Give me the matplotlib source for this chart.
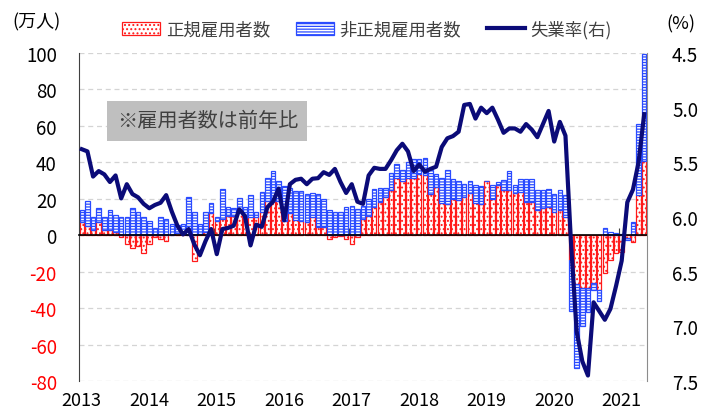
import numpy as np
import matplotlib
matplotlib.use('Agg')
import matplotlib.pyplot as plt
from matplotlib.patches import Patch, Rectangle
from matplotlib.lines import Line2D

plt.rcParams['font.family'] = ['Noto Sans CJK JP', 'DejaVu Sans']
plt.rcParams['hatch.linewidth'] = 0.9

# ---------------- data (monthly, Jan 2013 - May 2021) ----------------
years = ['2013', '2014', '2015', '2016', '2017', '2018', '2019', '2020', '2021']

# 正規雇用者数 (前年比, 万人)
regular = [
    7, 5, 3, 7, 3, 3, 2, -1, -5, -7, -6, -10,                    # 2013
    -5, -1, -2, -3, 0, 1, 0.5, 0, -14, 0.5, 2, 12,                # 2014
    8, 9, 10.5, 10.5, 14, 9.5, 10, 10, 12.5, 19, 19, 19,          # 2015
    8, 12, 8.3, 8, 7.5, 10, 4.5, 4.5, -2, -1, -0.5, -2,           # 2016
    -5, -1, 9, 10.5, 15.5, 18, 21, 25, 31.6, 30, 31.6, 31.6,      # 2017
    33.8, 33, 22.8, 26.5, 17.7, 17, 20, 19.5, 21, 23, 17.5, 17,   # 2018
    29.5, 20, 27.6, 25, 24.7, 23, 23.5, 18.5, 18.3, 13.6, 15, 15.5,  # 2019
    12.7, 14, 10, -13.7, -27, -29, -29, -26, -30, -21, -13.7, -10,   # 2020
    -9, -1.5, -3.7, 22, 41,                                        # 2021
]

# 非正規雇用者数 (前年比, 万人)
nonregular = [
    7, 14, 7, 8, 7, 11, 9, 10, 10, 15, 13, 10,                    # 2013
    8, 4, 10, 9, 6, 4.5, 5.5, 21, 13, 5.5, 11, 5.5,               # 2014
    2, 16.5, 5, 4.7, 6.5, 6, 12, 3, 11, 12.5, 16.5, 11,           # 2015
    19, 13.7, 15.7, 16.5, 15, 13.2, 18, 15.5, 14, 12.5, 12.5, 15.5,  # 2016
    16, 14.5, 7, 9.5, 10.1, 8, 5, 9, 7.4, 5.6, 8.4, 10.4,         # 2017
    8.2, 9.6, 13.2, 7, 13.9, 18.6, 11, 10.5, 7, 7, 10, 10,        # 2018
    0.5, 7.4, 1.4, 5.5, 10.3, 4.7, 7.5, 12.5, 12.7, 11.1, 10, 10.1,  # 2019
    10.1, 11, 12, -28, -46, -21, -13, -4, -6, 3.7, 1.5, 1,        # 2020
    0.5, -1, 7.3, 39, 58.6,                                        # 2021
]

# 失業率 (%, 右軸)
unemployment = [
    5.38, 5.40, 5.63, 5.58, 5.61, 5.68, 5.62, 5.83, 5.70, 5.79, 5.82, 5.88,
    5.92, 5.89, 5.87, 5.80, 5.95, 6.08, 6.16, 6.11, 6.25, 6.35, 6.22, 6.11,
    6.34, 6.11, 6.10, 6.08, 5.93, 5.99, 6.26, 6.07, 6.09, 5.91, 5.86, 5.74,
    6.03, 5.70, 5.66, 5.65, 5.70, 5.65, 5.645, 5.59, 5.615, 5.56, 5.68, 5.78,
    5.70, 5.86, 5.88, 5.62, 5.55, 5.56, 5.56, 5.48, 5.39, 5.33, 5.40, 5.58,
    5.52, 5.585, 5.56, 5.54, 5.36, 5.28, 5.26, 5.22, 4.975, 4.966, 5.10, 5.00,
    5.05, 5.00, 5.11, 5.23, 5.19, 5.19, 5.22, 5.15, 5.20, 5.27, 5.15, 5.03,
    5.31, 5.13, 5.256, 6.25, 7.05, 7.32, 7.45, 6.78, 6.86, 6.94, 6.84, 6.63,
    6.40, 5.865, 5.75, 5.50, 5.06,
]

legend_labels = ['正規雇用者数', '非正規雇用者数', '失業率(右)']
note_text = '※雇用者数は前年比'

# ---------------- drawing ----------------
RED = '#ff1a1a'
BLUE = '#2a4bff'
NAVY = '#0b0b78'
GRAY_TXT = '#404040'

n = len(regular)
x = np.arange(n)
reg = np.array(regular, dtype=float)
non = np.array(nonregular, dtype=float)
bottom_non = np.where(np.sign(non) == np.sign(reg), reg, 0.0)

fig = plt.figure(figsize=(7.03, 4.14), dpi=100)
ax = fig.add_axes([79 / 703, 1 - 382 / 414, 568 / 703, 328 / 414])
ax.set_xlim(-0.5, n - 0.5)
ax.set_ylim(-80, 100)

ax.bar(x, reg, width=0.8, facecolor='white', edgecolor=RED, hatch='....',
       linewidth=0.9, zorder=2)
ax.bar(x, non, bottom=bottom_non, width=0.8, facecolor='white', edgecolor=BLUE,
       hatch='------', linewidth=0.9, zorder=2)

yt = list(range(-80, 101, 20))
ax.set_yticks(yt)
ax.set_yticklabels([str(v) for v in yt])
for lab, v in zip(ax.get_yticklabels(), yt):
    lab.set_color('#ff0000' if v < 0 else 'black')
ax.tick_params(axis='y', length=0, pad=16, labelsize=13.5)
ax.yaxis.grid(True, linestyle=(0, (4, 3)), color='#d4d4d4', linewidth=0.9)
ax.set_axisbelow(True)

ax.spines['top'].set_visible(False)
ax.spines['right'].set_visible(False)
ax.spines['left'].set_color('#404040')
ax.spines['bottom'].set_position(('data', 0))
ax.spines['bottom'].set_color('black')
ax.spines['bottom'].set_linewidth(1.2)
ax.spines['bottom'].set_zorder(3)

ax.set_xticks(np.arange(11.5, n, 12))
ax.tick_params(axis='x', direction='in', length=5, color='#404040',
               labelbottom=False)

sec = ax.secondary_xaxis('bottom')
sec.set_xticks(np.arange(0, n, 12), labels=years)
sec.tick_params(length=0, labelsize=13, pad=7)
sec.spines['bottom'].set_visible(False)

# note box
ax.add_patch(Rectangle((28 / 568, (382 - 141.7) / 328), 200 / 568, 40 / 328,
                       transform=ax.transAxes, facecolor='#bfbfbf',
                       edgecolor='none', zorder=4))
ax.text(0.226, 0.7936, note_text, transform=ax.transAxes, ha='center',
        va='center', fontsize=14.5, color=GRAY_TXT, zorder=5)

# right axis: unemployment (inverted)
ax2 = ax.twinx()
ax2.set_ylim(7.5, 4.5)
rt = np.arange(4.5, 7.51, 0.5)
ax2.set_yticks(rt)
ax2.set_yticklabels([f'{v:.1f}' for v in rt])
ax2.tick_params(axis='y', length=0, pad=18, labelsize=13.5)
ax2.plot(x, unemployment, color=NAVY, linewidth=3, solid_joinstyle='round',
         zorder=3)
for s in ['top', 'left', 'bottom']:
    ax2.spines[s].set_visible(False)
ax2.spines['right'].set_color('#8c8c8c')

# unit labels
fig.text(36 / 703, 1 - 22 / 414, '(万人)', ha='center', va='center',
         fontsize=13, color='black')
fig.text(681 / 703, 1 - 24 / 414, '(%)', ha='center', va='center',
         fontsize=13, color='black')

handles = [
    Patch(facecolor='white', edgecolor=RED, hatch='....', linewidth=0.9),
    Patch(facecolor='white', edgecolor=BLUE, hatch='------', linewidth=0.9),
    Line2D([], [], color=NAVY, linewidth=3),
]
fig.legend(handles, legend_labels, loc='center', bbox_to_anchor=(0.522, 0.9275),
           ncol=3, frameon=False, fontsize=12.5, handlelength=2.2,
           handleheight=0.8, columnspacing=1.5, handletextpad=0.3,
           labelcolor=GRAY_TXT)

fig.savefig('out.png', dpi=100)
